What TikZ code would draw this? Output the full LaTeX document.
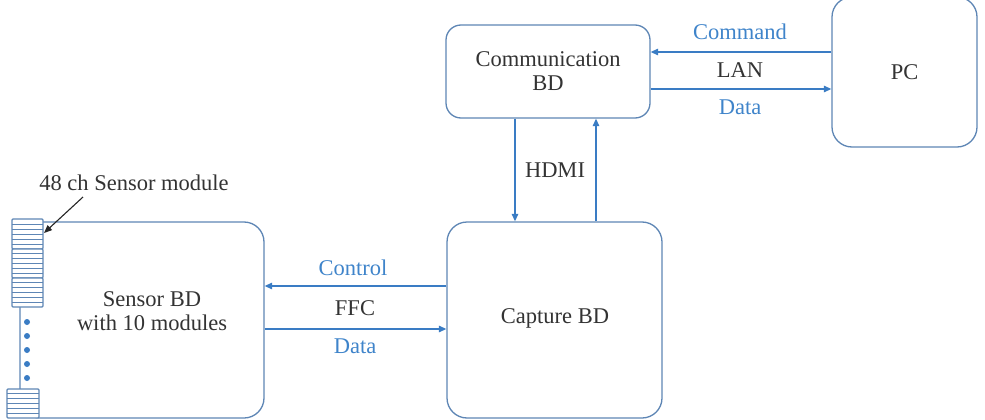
\documentclass[tikz,border=0pt]{standalone}
\usepackage{fontspec}
\setmainfont{Liberation Serif}
\newfontfamily\serf{Liberation Serif}
\usetikzlibrary{arrows.meta}
\definecolor{boxc}{HTML}{5E86B5}
\definecolor{arrc}{HTML}{3A7CC4}
\definecolor{lblc}{HTML}{3F84CA}
\definecolor{txtc}{HTML}{333333}
\tikzset{
  blk/.style={draw=boxc, line width=1.3pt, rounded corners=#1, fill=white, text=txtc, align=center, inner sep=0pt, font=\serf\fontsize{22.5}{24}\selectfont},
  blk/.default=20pt,
  arr/.style={draw=arrc, line width=1.2pt, -{Triangle[length=7.5pt,width=6.5pt]}},
  lbl/.style={text=lblc, font=\serf\fontsize{22.5}{24}\selectfont, inner sep=0pt},
  txt/.style={text=txtc, font=\serf\fontsize{22.5}{24}\selectfont, inner sep=0pt, align=center},
  modbox/.style={draw=boxc, line width=1.1pt, fill=white, rounded corners=1pt},
  stripe/.style={draw=boxc, line width=0.7pt},
  dotc/.style={circle, fill=arrc, inner sep=0pt, minimum size=6pt}
}
\begin{document}
\begin{tikzpicture}[x=1pt,y=-1pt]
\useasboundingbox (0,0) rectangle (985,420);
% blocks
\node[blk=15pt, minimum width=204pt, minimum height=93pt] (comm) at (548,71.5) {Communication\\BD};
\node[blk, minimum width=145pt, minimum height=150pt] (pc) at (904.5,72) {PC};
\node[blk, minimum width=215pt, minimum height=196pt] (cap) at (554.5,320) {};
\node[txt] (captxt) at (555,318) {Capture BD};
\node[blk, minimum width=244pt, minimum height=196pt] (sens) at (142,320) {};
\node[txt] (senstxt) at (152,311) {Sensor BD\\with 10 modules};
% sensor modules
\foreach \yt/\xl/\xr/\h [count=\i] in {219/12/43/30, 249/12/43/29, 278/12/43/29, 389/7/39/29}{
  \draw[modbox] (\xl,\yt) rectangle (\xr,\yt+\h);
  \foreach \k in {1,...,5}{
    \draw[stripe] (\xl,\yt+\k*\h/6) -- (\xr,\yt+\k*\h/6);
  }
  \coordinate (m\i) at (\xl,\yt);
}
\foreach \yy [count=\j] in {322,336,350,364,378}{
  \node[dotc] (d\j) at (27,\yy) {};
}
% module label
\node[txt] (modlbl) at (134,183) {48 ch Sensor module};
\coordinate (mtail) at (83,197);
\coordinate (mhead) at (44,233);
\draw[black!85, line width=1.1pt, -{Triangle[length=8pt,width=6.5pt]}] (mtail) -- (mhead);
% LAN arrows
\draw[arr] (pc.west |- 0,52) -- (comm.east |- 0,52);
\draw[arr] (comm.east |- 0,89) -- (pc.west |- 0,89);
\node[lbl] (cmdl) at (740,32) {Command};
\node[txt] (lanl) at (740,70) {LAN};
\node[lbl] (datal1) at (740,107) {Data};
% HDMI arrows
\draw[arr] (comm.south -| 515,0) -- (cap.north -| 515,0);
\draw[arr] (cap.north -| 596,0) -- (comm.south -| 596,0);
\node[txt] (hdmil) at (555,170) {HDMI};
% FFC arrows
\draw[arr] (cap.west |- 0,286) -- (sens.east |- 0,286);
\draw[arr] (sens.east |- 0,329) -- (cap.west |- 0,329);
\node[lbl] (ctrll) at (353,268) {Control};
\node[txt] (ffcl) at (355,308) {FFC};
\node[lbl] (datal2) at (355,346) {Data};
\end{tikzpicture}
\end{document}
